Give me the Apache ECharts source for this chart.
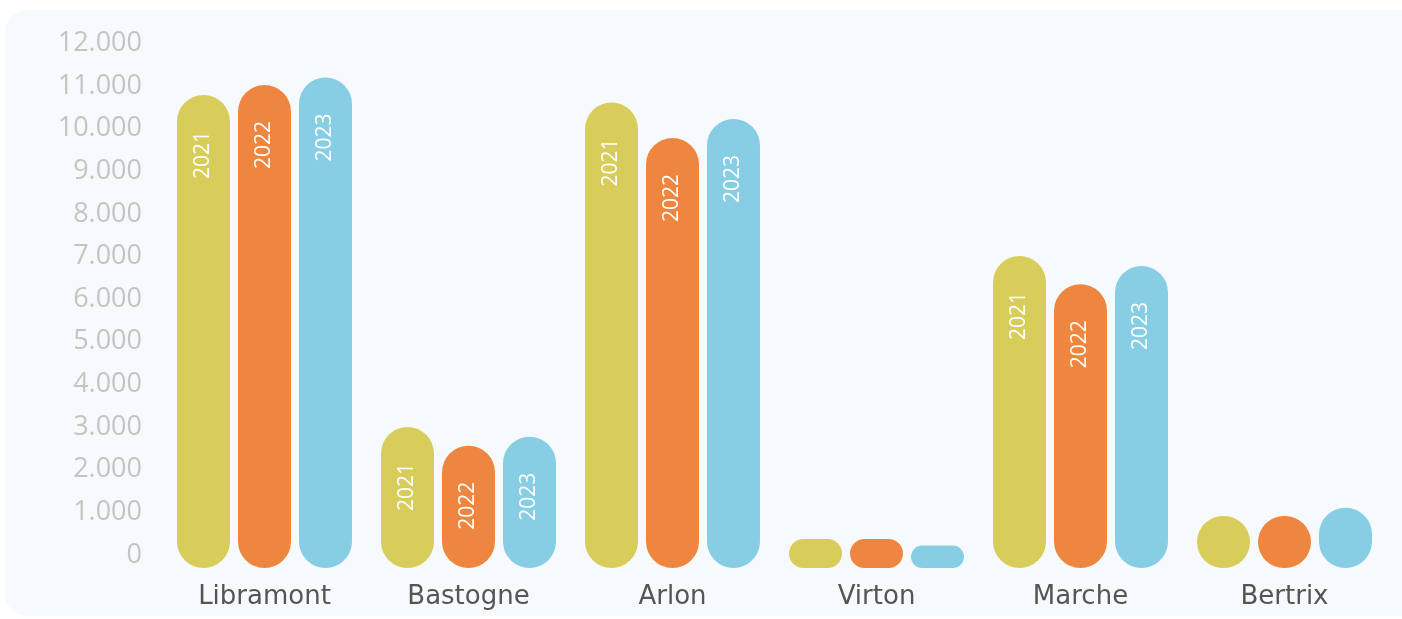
<!DOCTYPE html>
<html>
<head>
<meta charset="utf-8">
<script src="https://cdn.jsdelivr.net/npm/echarts@6/dist/echarts.min.js"></script>
<style>
  html, body { margin: 0; padding: 0; background: #ffffff; }
  #chart { width: 1402px; height: 619px; }
</style>
</head>
<body>
<div id="chart"></div>
<script>
// Visitors per site and year
const cities = ['Libramont', 'Bastogne', 'Arlon', 'Virton', 'Marche', 'Bertrix'];
const years = ['2021', '2022', '2023'];
const values2021 = [10790, 3000, 10610, 375, 7010, 915];
const values2022 = [11020, 2560, 9780, 375, 6350, 915];
const values2023 = [11200, 2775, 10225, 220, 6780, 1110];
const yearColors = ['#d8cc5a', '#ef8640', '#87cee4'];
const yMin = 0, yMax = 12000, yStep = 1000;

const seriesValues = [values2021, values2022, values2023];

// Pill-shaped columns: rounded at both ends, the base sits a little below zero
const BAR_W = 53;
const BAR_SPACING = 61;
const BASE_DROP = 13;
const LABEL_INSET = 36;
const LABEL_MIN_LEN = 100;

function makeRenderItem(k) {
  return function (params, api) {
    const cat = api.value(0);
    const val = api.value(1);
    const top = api.coord([cat, val]);
    const zero = api.coord([cat, 0]);
    const cx = top[0] + (k - 1) * BAR_SPACING;
    const y0 = top[1];
    const y1 = zero[1] + BASE_DROP;
    const h = y1 - y0;
    const r = Math.min(BAR_W / 2, h / 2);
    const children = [{
      type: 'rect',
      shape: { x: cx - BAR_W / 2, y: y0, width: BAR_W, height: h, r: r },
      style: { fill: yearColors[k] }
    }];
    if (h > LABEL_MIN_LEN) {
      children.push({
        type: 'text',
        x: cx,
        y: y0 + LABEL_INSET,
        rotation: Math.PI / 2,
        style: {
          text: years[k],
          fill: '#ffffff',
          font: '21px "Open Sans", sans-serif',
          align: 'right',
          verticalAlign: 'middle'
        }
      });
    }
    return { type: 'group', children: children };
  };
}

const chart = echarts.init(document.getElementById('chart'), null, { renderer: 'canvas' });

chart.setOption({
  animation: false,
  backgroundColor: '#ffffff',
  graphic: [{
    type: 'rect',
    z: -10,
    silent: true,
    shape: { x: 5, y: 10, width: 1420, height: 606, r: 22 },
    style: { fill: '#f6fafd' }
  }],
  grid: { left: 162.5, right: 15.5, top: 43.3, bottom: 64, containLabel: false },
  xAxis: {
    type: 'category',
    data: cities,
    axisLine: { show: false },
    axisTick: { show: false },
    axisLabel: {
      color: '#555555',
      fontFamily: 'DejaVu Sans',
      fontSize: 26,
      margin: 29
    }
  },
  yAxis: {
    type: 'value',
    min: yMin,
    max: yMax,
    interval: yStep,
    splitLine: { show: false },
    axisLine: { show: false },
    axisTick: { show: false },
    axisLabel: {
      color: '#c4c4c4',
      fontFamily: 'Open Sans',
      fontSize: 27,
      margin: 20.5,
      padding: [4, 0, 0, 0],
      formatter: function (v) {
        return String(v).replace(/\B(?=(\d{3})+(?!\d))/g, '.');
      }
    }
  },
  series: seriesValues.map(function (vals, k) {
    return {
      type: 'custom',
      name: years[k],
      silent: true,
      clip: false,
      renderItem: makeRenderItem(k),
      encode: { x: 0, y: 1 },
      data: vals.map(function (v, i) { return [i, v]; })
    };
  })
});
</script>
</body>
</html>
